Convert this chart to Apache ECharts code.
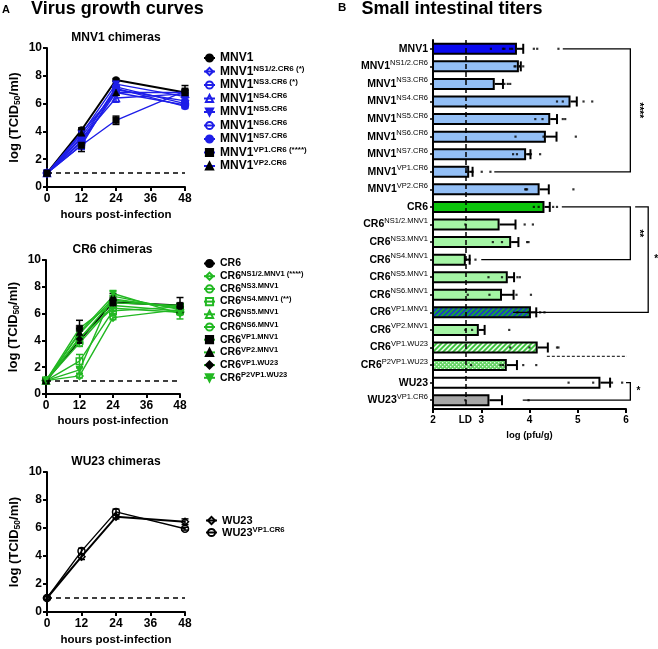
<!DOCTYPE html>
<html><head><meta charset="utf-8">
<script src="https://cdn.jsdelivr.net/npm/echarts@6/dist/echarts.min.js"></script>
<style>html,body{margin:0;padding:0;background:#fff}#c{width:658px;height:649px}</style>
</head><body><div id="c"></div>
<script>
// ---------------- DATA ----------------
const hours = [0, 12, 24, 48];

const mnv1Names = ['MNV1','MNV1 NS1/2.CR6 (*)','MNV1 NS3.CR6 (*)','MNV1 NS4.CR6','MNV1 NS5.CR6','MNV1 NS6.CR6','MNV1 NS7.CR6','MNV1 VP1.CR6 (****)','MNV1 VP2.CR6'];
const mnv1Values = [
  [1, 4.1, 7.7, 6.8],
  [1, 3.6, 7.0, 6.2],
  [1, 3.3, 7.2, 6.0],
  [1, 3.5, 6.4, 6.7],
  [1, 3.8, 7.4, 6.5],
  [1, 3.2, 6.8, 5.9],
  [1, 3.0, 7.1, 5.8],
  [1, 3.0, 4.8, 6.9],
  [1, 3.9, 6.8, 6.8]
];
const mnv1Errors = [
  [0.1, 0.15, 0.1, 0.15],
  [0.1, 0.3, 0.15, 0.2],
  [0.1, 0.6, 0.2, 0.15],
  [0.1, 0.3, 0.3, 0.25],
  [0.1, 0.2, 0.15, 0.2],
  [0.1, 0.25, 0.2, 0.15],
  [0.1, 0.2, 0.15, 0.15],
  [0.15, 0.45, 0.3, 0.4],
  [0.1, 0.2, 0.2, 0.2]
];

const cr6Names = ['CR6','CR6 NS1/2.MNV1 (****)','CR6 NS3.MNV1','CR6 NS4.MNV1 (**)','CR6 NS5.MNV1','CR6 NS6.MNV1','CR6 VP1.MNV1','CR6 VP2.MNV1','CR6 VP1.WU23','CR6 P2VP1.WU23'];
const cr6Values = [
  [1, 4.0, 6.85, 6.6],
  [1, 1.35, 5.7, 6.3],
  [1, 3.8, 6.6, 6.2],
  [1, 2.45, 6.2, 6.5],
  [1, 4.5, 7.1, 6.4],
  [1, 4.2, 6.4, 6.1],
  [1, 4.9, 6.8, 6.6],
  [1, 4.6, 7.3, 6.3],
  [1, 4.1, 7.0, 6.5],
  [1, 1.8, 7.5, 6.0]
];
const cr6Errors = [
  [0.1, 0.2, 0.15, 0.15],
  [0.1, 0.15, 0.15, 0.2],
  [0.1, 0.25, 0.2, 0.2],
  [0.1, 0.5, 0.2, 0.2],
  [0.1, 0.3, 0.2, 0.2],
  [0.1, 0.2, 0.2, 0.2],
  [0.1, 0.6, 0.2, 0.6],
  [0.1, 0.3, 0.2, 0.3],
  [0.1, 0.2, 0.2, 0.2],
  [0.1, 0.25, 0.15, 0.4]
];

const wu23Names = ['WU23','WU23 VP1.CR6'];
const wu23Values = [
  [1, 3.95, 6.8, 6.45],
  [1, 4.35, 7.15, 5.95]
];
const wu23Errors = [
  [0.1, 0.2, 0.15, 0.2],
  [0.1, 0.2, 0.2, 0.1]
];

const barCategories = ['MNV1','MNV1 NS1/2.CR6','MNV1 NS3.CR6','MNV1 NS4.CR6','MNV1 NS5.CR6','MNV1 NS6.CR6','MNV1 NS7.CR6','MNV1 VP1.CR6','MNV1 VP2.CR6',
  'CR6','CR6 NS1/2.MNV1','CR6 NS3.MNV1','CR6 NS4.MNV1','CR6 NS5.MNV1','CR6 NS6.MNV1','CR6 VP1.MNV1','CR6 VP2.MNV1','CR6 VP1.WU23','CR6 P2VP1.WU23',
  'WU23','WU23 VP1.CR6'];
const barMeans = [3.74,3.78,3.28,4.85,4.43,4.34,3.93,2.75,4.21,4.31,3.38,3.62,2.68,3.55,3.43,4.03,2.95,4.17,3.53,5.47,3.17];
const barErrHigh = [3.87,3.82,3.45,4.98,4.57,4.56,4.02,2.82,4.40,4.42,3.71,3.77,2.76,3.68,3.67,4.14,3.07,4.38,3.74,5.67,3.43];
const barPoints = [
  [3.2,3.45,3.48,3.6,3.64,4.09,4.16,4.6],
  [3.69,3.71,3.8,3.87],
  [3.48,3.55,3.6],
  [4.57,4.69,5.12,5.3],
  [4.12,4.27,4.69,4.74],
  [3.71,4.29,4.96],
  [3.66,3.74,3.98,4.03,4.22],
  [2.69,2.82,3.01,3.19],
  [3.91,3.93,3.95,4.91],
  [4.09,4.19,4.49,4.57],
  [2.67,3.9,4.07],
  [3.24,3.43,3.95,3.98],
  [2.67,2.76,2.88],
  [3.15,3.43,3.75,3.8],
  [2.72,3.17,3.73,4.03],
  [3.75,3.98,4.22,4.31],
  [2.67,2.81,3.58],
  [3.6,4.0,4.57,4.6],
  [2.79,3.4,3.45,3.87,4.14],
  [4.81,5.32,5.71,5.92],
  [2.67,3.98]
];
const limitOfDetection = 2.67;
const xTickLabels = [2, limitOfDetection, 3, 4, 5, 6];

// significance brackets (category indices, x values in log pfu/g)
const brTopIdx = [0, 9, 9, 19];
const brBottomIdx = [7, 12, 15, 20];
const brTopStart = [4.69, 4.67, 6.19, 6.0];
const brBottomStart = [3.27, 3.0, 3.66, 3.86];
const brX = [6.09, 6.09, 6.46, 6.09];
const brLabels = ['****', '**', '*', '*'];
const sepLine = [4.36, 6.02]; // dashed separator between idx 17 and 18

// ---------------- STYLES ----------------
const FF = '"Liberation Sans", Arial, sans-serif';
const BLUE = '#1e1ee8', GREEN = '#22b822', BLACK = '#000';
const invTri = 'path://M0,0 L10,0 L5,9 Z';
const mnv1Sym = ['circle','diamond','circle','triangle',invTri,'circle','circle','rect','triangle'];
const mnv1Open = [false,true,true,true,false,true,false,false,false];
const mnv1Mark = [BLACK,BLUE,BLUE,BLUE,BLUE,BLUE,BLUE,BLACK,BLACK];
const mnv1Line = [BLACK,BLUE,BLUE,BLUE,BLUE,BLUE,BLUE,BLUE,BLUE];
const cr6Sym = ['circle','diamond','circle','rect','triangle','circle','rect','triangle','diamond',invTri];
const cr6Open = [false,true,true,true,true,true,false,false,false,false];
const cr6Mark = [BLACK,GREEN,GREEN,GREEN,GREEN,GREEN,BLACK,BLACK,BLACK,GREEN];
const cr6Line = [BLACK,GREEN,GREEN,GREEN,GREEN,GREEN,GREEN,GREEN,GREEN,GREEN];
const wu23Sym = ['diamond','circle'];
const wu23Open = [true,true];
const wu23Mark = [BLACK,BLACK];
const wu23Line = [BLACK,BLACK];

function hatch(bg, fg, lw, s) {
  const c = document.createElement('canvas'); c.width = s; c.height = s;
  const g = c.getContext('2d');
  g.fillStyle = bg; g.fillRect(0,0,s,s);
  g.strokeStyle = fg; g.lineWidth = lw; g.beginPath();
  g.moveTo(0,s); g.lineTo(s,0);
  g.moveTo(-s/2,s/2); g.lineTo(s/2,-s/2);
  g.moveTo(s/2,s*1.5); g.lineTo(s*1.5,s/2);
  g.stroke();
  return {image: c, repeat: 'repeat'};
}
function dots(bg, fg) {
  const c = document.createElement('canvas'); c.width = 4; c.height = 4;
  const g = c.getContext('2d');
  g.fillStyle = bg; g.fillRect(0,0,4,4);
  g.fillStyle = fg; g.fillRect(0,0,1.3,1.3); g.fillRect(2,2,1.3,1.3);
  return {image: c, repeat: 'repeat'};
}
const LB = '#93bff6', LG = '#a5f5a5';
const barFills = ['#0a0af0',LB,LB,LB,LB,LB,LB,LB,LB,'#0cc40c',LG,LG,LG,LG,LG,
  hatch('#19a53a','#1838c8',1.6,5), LG, hatch('#e9fbe9','#38c238',1.8,5), dots('#66d466','#e8fbe8'), '#ffffff', '#a6a6a6'];

// ---------------- BUILD ----------------
function lineSeries(names, values, sym, open, mark, lineCol, gi) {
  return names.map((n, s) => {
    const ser = {
      type: 'line', name: n, xAxisIndex: gi, yAxisIndex: gi,
      data: hours.map((h, t) => [h, values[s][t]]),
      symbol: sym[s], symbolSize: sym[s] === 'rect' ? 6.5 : 7,
      lineStyle: {color: lineCol[s], width: s === 0 ? 2 : 1.4},
      itemStyle: {color: open[s] ? 'rgba(255,255,255,0)' : mark[s], borderColor: mark[s], borderWidth: open[s] ? 1.5 : 0.5},
      z: 3, animation: false
    };
    if (s === 0) {
      ser.markLine = {silent: true, symbol: 'none', animation: false, label: {show: false},
        lineStyle: {type: [5, 4], color: '#000', width: 1.5}, data: [{yAxis: 1}]};
    }
    return ser;
  });
}
function errSeries(values, errors, colors, gi) {
  const data = [];
  values.forEach((row, s) => row.forEach((v, t) => data.push([hours[t], v, errors[s][t], s])));
  return {
    type: 'custom', xAxisIndex: gi, yAxisIndex: gi, data, z: 2, animation: false,
    encode: {x: 0, y: 1},
    renderItem: (p, api) => {
      const x = api.value(0), v = api.value(1), e = api.value(2), s = api.value(3);
      const a = api.coord([x, v - e]), b = api.coord([x, v + e]);
      const st = {stroke: colors[s], lineWidth: 1.5};
      return {type: 'group', children: [
        {type: 'line', shape: {x1: a[0], y1: a[1], x2: b[0], y2: b[1]}, style: st},
        {type: 'line', shape: {x1: a[0]-3.5, y1: a[1], x2: a[0]+3.5, y2: a[1]}, style: st},
        {type: 'line', shape: {x1: b[0]-3.5, y1: b[1], x2: b[0]+3.5, y2: b[1]}, style: st}
      ]};
    }
  };
}
const axisBlack = {show: true, lineStyle: {color: '#000', width: 2}};
function lineX(gi, gap) {
  return {gridIndex: gi, type: 'value', min: 0, max: 48, interval: 12,
    axisLine: axisBlack, axisTick: {show: true, length: 4, lineStyle: {color: '#000', width: 2}},
    axisLabel: {color: '#000', fontWeight: 'bold', fontSize: 12, fontFamily: FF, margin: 6},
    splitLine: {show: false},
    name: 'hours post-infection', nameLocation: 'middle', nameGap: gap,
    nameTextStyle: {color: '#000', fontWeight: 'bold', fontSize: 11.5, fontFamily: FF}};
}
function lineY(gi) {
  return {gridIndex: gi, type: 'value', min: 0, max: 10, interval: 2,
    axisLine: axisBlack, axisTick: {show: true, length: 4, lineStyle: {color: '#000', width: 2}},
    axisLabel: {color: '#000', fontWeight: 'bold', fontSize: 12, fontFamily: FF, margin: 5},
    splitLine: {show: false},
    name: 'log (TCID{sub|50}/ml)', nameLocation: 'middle', nameGap: 25, nameRotate: 90,
    nameTextStyle: {color: '#000', fontWeight: 'bold', fontSize: 13, fontFamily: FF, lineHeight: 15,
      rich: {sub: {fontSize: 8.5, fontWeight: 'bold', fontFamily: FF, verticalAlign: 'bottom', lineHeight: 10}}}};
}
function splitName(n) {
  const k = n.indexOf(' ');
  return k < 0 ? [n, ''] : [n.slice(0, k), n.slice(k + 1)];
}
function richFmt(n) {
  const [b, s] = splitName(n);
  return s ? '{b|' + b + '}{s|' + s + '}' : '{b|' + b + '}';
}
function legend(names, left, top, fs, sfs, lh, gap) {
  return {data: names, orient: 'vertical', left, top, itemWidth: 11, itemHeight: 9, itemGap: gap,
    selectedMode: false, formatter: richFmt,
    textStyle: {color: '#000', fontFamily: FF,
      rich: {b: {fontSize: fs, fontWeight: 'bold', fontFamily: FF, lineHeight: lh, color: '#000'},
             s: {fontSize: sfs, fontWeight: 'bold', fontFamily: FF, lineHeight: sfs + 1, verticalAlign: 'top', color: '#000'}}}};
}

const chart = echarts.init(document.getElementById('c'), null, {renderer: 'canvas'});

const barSeries = {
  type: 'bar', name: 'titers', xAxisIndex: 3, yAxisIndex: 3, barWidth: 12, z: 2, animation: false,
  data: barMeans.map((v, i) => ({value: v, itemStyle: {color: barFills[i]}})),
  itemStyle: {borderColor: '#000', borderWidth: 2},
  markLine: {silent: true, symbol: 'none', animation: false, label: {show: false},
    lineStyle: {type: [5, 3], color: '#000', width: 1.5}, data: [{xAxis: limitOfDetection}]}
};
const barErr = {
  type: 'custom', xAxisIndex: 3, yAxisIndex: 3, z: 3, animation: false,
  data: barMeans.map((m, i) => [m, i, barErrHigh[i]]),
  encode: {x: 0, y: 1},
  renderItem: (p, api) => {
    const i = api.value(1);
    const a = api.coord([api.value(0), i]), b = api.coord([api.value(2), i]);
    const st = {stroke: '#000', lineWidth: 2};
    return {type: 'group', children: [
      {type: 'line', shape: {x1: a[0], y1: a[1], x2: b[0], y2: b[1]}, style: st},
      {type: 'line', shape: {x1: b[0], y1: b[1]-5, x2: b[0], y2: b[1]+5}, style: st}
    ]};
  }
};
const barDots = {
  type: 'scatter', xAxisIndex: 3, yAxisIndex: 3, z: 4, animation: false,
  symbol: 'rect', symbolSize: 2.2, itemStyle: {color: '#000'},
  data: barPoints.flatMap((arr, i) => arr.map(v => [v, i]))
};
const brackets = {
  type: 'custom', xAxisIndex: 3, yAxisIndex: 3, z: 5, animation: false,
  data: brX.map((x, k) => [x, brTopIdx[k]]),
  encode: {x: 0, y: 1},
  renderItem: (p, api) => {
    const k = p.dataIndex;
    const t = api.coord([brTopStart[k], brTopIdx[k]]);
    const tr = api.coord([brX[k], brTopIdx[k]]);
    const br = api.coord([brX[k], brBottomIdx[k]]);
    const b = api.coord([brBottomStart[k], brBottomIdx[k]]);
    const my = (tr[1] + br[1]) / 2;
    const st = {stroke: '#000', lineWidth: 1.3, fill: null};
    const single = brLabels[k].length === 1;
    return {type: 'group', children: [
      {type: 'polyline', shape: {points: [t, tr, br, b]}, style: st},
      {type: 'text', x: tr[0] + 8, y: my, rotation: single ? 0 : -Math.PI / 2,
        style: {legacy: false, text: brLabels[k], fill: '#000', font: 'bold 10px ' + FF, align: 'center', verticalAlign: 'middle'}}
    ]};
  }
};
const sep = {
  type: 'custom', xAxisIndex: 3, yAxisIndex: 3, z: 5, animation: false,
  data: [[sepLine[0], 17]], encode: {x: 0, y: 1},
  renderItem: (p, api) => {
    const a = api.coord([sepLine[0], 17]), b = api.coord([sepLine[1], 18]);
    const y = (a[1] + b[1]) / 2;
    return {type: 'line', shape: {x1: a[0], y1: y, x2: b[0], y2: y}, style: {stroke: '#000', lineWidth: 1, lineDash: [3, 2]}};
  }
};

function gtext(text, x, y, font, align) {
  return {type: 'text', x, y, silent: true,
    style: {legacy: false, text, fill: '#000', font, align: align || 'left', verticalAlign: 'middle'}};
}

const option = {
  backgroundColor: '#fff',
  animation: false,
  grid: [
    {left: 47, top: 48, width: 138, height: 139},
    {left: 46, top: 260, width: 134, height: 134},
    {left: 47, top: 472, width: 138, height: 140},
    {left: 433, top: 40, width: 193, height: 369}
  ],
  xAxis: [
    lineX(0, 22), lineX(1, 21), lineX(2, 22),
    {gridIndex: 3, type: 'value', min: 2, max: 6, interval: 1,
      axisLine: axisBlack, axisTick: {show: true, length: 4, lineStyle: {color: '#000', width: 2}},
      axisLabel: {customValues: xTickLabels, color: '#000', fontWeight: 'bold', fontSize: 10, fontFamily: FF, margin: 6,
        formatter: v => Math.abs(v - limitOfDetection) < 0.01 ? 'LD' : String(v)},
      splitLine: {show: false},
      name: 'log (pfu/g)', nameLocation: 'middle', nameGap: 20,
      nameTextStyle: {color: '#000', fontWeight: 'bold', fontSize: 9.5, fontFamily: FF}}
  ],
  yAxis: [
    lineY(0), lineY(1), lineY(2),
    {gridIndex: 3, type: 'category', data: barCategories, inverse: true,
      axisLine: axisBlack, axisTick: {show: true, length: 3, alignWithLabel: true, lineStyle: {color: '#000', width: 1.5}},
      axisLabel: {margin: 5, formatter: richFmt, interval: 0,
        rich: {b: {fontSize: 10.5, fontWeight: 'bold', fontFamily: FF, color: '#000', lineHeight: 15},
               s: {fontSize: 7.5, fontFamily: FF, color: '#000', lineHeight: 9, verticalAlign: 'top'}}}}
  ],
  legend: [
    legend(mnv1Names, 198, 47, 12, 8, 14, 0.5),
    legend(cr6Names, 198, 253, 10.5, 7.5, 13, 0.7),
    legend(wu23Names, 200, 510, 11, 7.7, 13, 0)
  ],
  graphic: [
    gtext('A', 2, 9.7, 'bold 11px ' + FF),
    gtext('Virus growth curves', 31, 9.5, 'bold 18px ' + FF),
    gtext('B', 338, 7.8, 'bold 11.5px ' + FF),
    gtext('Small intestinal titers', 361.5, 9.2, 'bold 18px ' + FF),
    gtext('MNV1 chimeras', 116, 38, 'bold 12px ' + FF, 'center'),
    gtext('CR6 chimeras', 112.5, 250, 'bold 12px ' + FF, 'center'),
    gtext('WU23 chimeras', 116, 462, 'bold 12px ' + FF, 'center')
  ],
  series: [
    errSeries(mnv1Values, mnv1Errors, mnv1Line.map((c, i) => mnv1Mark[i] === BLACK ? BLACK : c), 0),
    ...lineSeries(mnv1Names, mnv1Values, mnv1Sym, mnv1Open, mnv1Mark, mnv1Line, 0),
    errSeries(cr6Values, cr6Errors, cr6Line.map((c, i) => cr6Mark[i] === BLACK ? BLACK : c), 1),
    ...lineSeries(cr6Names, cr6Values, cr6Sym, cr6Open, cr6Mark, cr6Line, 1),
    errSeries(wu23Values, wu23Errors, wu23Line, 2),
    ...lineSeries(wu23Names, wu23Values, wu23Sym, wu23Open, wu23Mark, wu23Line, 2),
    barSeries, barErr, barDots, brackets, sep
  ]
};
chart.setOption(option);
</script>
</body></html>
